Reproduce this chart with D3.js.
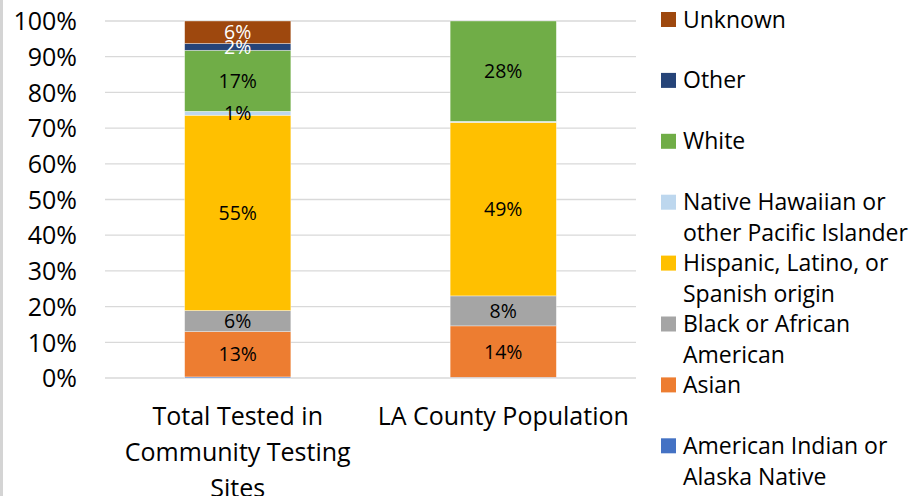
<!DOCTYPE html>
<html>
<head>
<meta charset="utf-8">
<script src="https://cdn.jsdelivr.net/npm/d3@7"></script>
<style>
  body { margin: 0; background: #fff; }
  svg { display: block; font-family: 'Open Sans', sans-serif; }
</style>
</head>
<body>
<script>
const categories = ['Total Tested in Community Testing Sites', 'LA County Population'];
const categoryLines = [['Total Tested in', 'Community Testing', 'Sites'], ['LA County Population']];

// series listed bottom to top (stack order)
const series = ['American Indian or Alaska Native', 'Asian', 'Black or African American',
  'Hispanic, Latino, or Spanish origin', 'Native Hawaiian or other Pacific Islander',
  'White', 'Other', 'Unknown'];
const colors = ['#4472c4', '#ed7d31', '#a5a5a5', '#ffc000', '#bdd7ee', '#70ad47', '#264478', '#9e480e'];

const testedValues = [0.3, 12.7, 5.9, 54.7, 1.1, 17.1, 1.9, 6.3];
const populationValues = [0.2, 14.4, 8.4, 48.6, 0.3, 28.1, 0, 0];

const testedLabels = [null, '13%', '6%', '55%', '1%', '17%', '2%', '6%'];
const populationLabels = [null, '14%', '8%', '49%', null, '28%', null, null];

const legendLines = [['American Indian or', 'Alaska Native'], ['Asian'], ['Black or African', 'American'],
  ['Hispanic, Latino, or', 'Spanish origin'], ['Native Hawaiian or', 'other Pacific Islander'],
  ['White'], ['Other'], ['Unknown']];

const yTicks = [0, 10, 20, 30, 40, 50, 60, 70, 80, 90, 100];

const w = 913, h = 496;
const svg = d3.select('body').append('svg').attr('width', w).attr('height', h);

// grey frame strip on the left edge
svg.append('rect').attr('x', 0).attr('y', 0).attr('width', 3).attr('height', h).attr('fill', '#d4d4d4');

const x = d3.scaleBand().domain(categories).range([105, 636]).paddingInner(0.6).paddingOuter(0.3);
const y = d3.scaleLinear().domain([0, 100]).range([378, 21]);

// gridlines
svg.append('g').selectAll('line').data(yTicks).enter().append('line')
  .attr('x1', 105).attr('x2', 636)
  .attr('y1', d => y(d)).attr('y2', d => y(d))
  .attr('stroke', '#d9d9d9').attr('stroke-width', 1.3);

// y axis labels
const yAxis = d3.axisLeft(y).tickValues(yTicks).tickFormat(d => d + '%').tickSize(0).tickPadding(0);
const ya = svg.append('g').attr('transform', 'translate(77,0)').call(yAxis);
ya.select('.domain').remove();
ya.selectAll('text').attr('font-size', 25).attr('font-family', "'Open Sans', sans-serif").attr('fill', '#000').attr('dy', '0.35em');

// stacked bars
const rows = [testedValues, populationValues];
const labelRows = [testedLabels, populationLabels];
const tableData = categories.map((c, i) => {
  const o = { cat: c };
  series.forEach((s, j) => { o[s] = rows[i][j]; });
  return o;
});
const stacked = d3.stack().keys(series)(tableData);

stacked.forEach((layer, j) => {
  const g = svg.append('g');
  g.selectAll('rect').data(layer).enter().append('rect')
    .attr('x', d => x(d.data.cat))
    .attr('width', x.bandwidth())
    .attr('y', d => y(d[1]))
    .attr('height', d => Math.max(0, y(d[0]) - y(d[1])))
    .attr('fill', colors[j])
    .attr('stroke', '#ffffff').attr('stroke-opacity', 0.6).attr('stroke-width', 0.6);
});

// data labels
stacked.forEach((layer, j) => {
  layer.forEach((d, i) => {
    const lab = labelRows[i][j];
    if (!lab) return;
    svg.append('text')
      .attr('x', x(d.data.cat) + x.bandwidth() / 2)
      .attr('y', y((d[0] + d[1]) / 2))
      .attr('dy', '0.36em')
      .attr('text-anchor', 'middle')
      .attr('font-size', 19.5)
      .attr('fill', (series[j] === 'Other' || series[j] === 'Unknown') ? '#ffffff' : '#000000')
      .text(lab);
  });
});

// category labels
categories.forEach((c, i) => {
  const t = svg.append('text')
    .attr('text-anchor', 'middle')
    .attr('font-size', 25)
    .attr('fill', '#000');
  categoryLines[i].forEach((line, k) => {
    t.append('tspan')
      .attr('x', x(c) + x.bandwidth() / 2)
      .attr('y', 425 + k * 36)
      .text(line);
  });
});

// legend, top entry = last series
const legendOrder = series.map((s, j) => j).reverse();
legendOrder.forEach((j, k) => {
  const cy = 19.5 + k * 60.9;
  svg.append('rect').attr('x', 661).attr('y', cy - 7.5).attr('width', 15).attr('height', 15).attr('fill', colors[j]);
  const t = svg.append('text').attr('font-size', 23).attr('fill', '#000');
  legendLines[j].forEach((line, m) => {
    t.append('tspan').attr('x', 683).attr('y', cy + 8 + m * 31).text(line);
  });
});
</script>
</body>
</html>
